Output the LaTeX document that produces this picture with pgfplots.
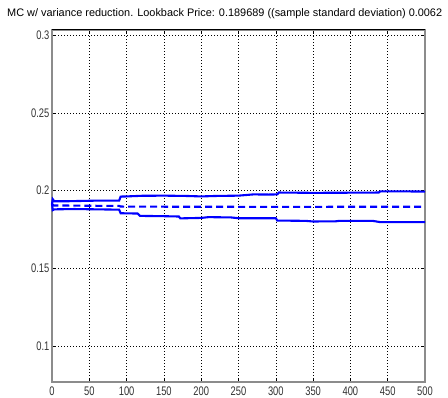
\documentclass[border=0pt]{standalone}
\usepackage{pgfplots}
\pgfplotsset{compat=1.18}
\usepackage{fontspec}
\setmainfont{Liberation Sans}
\begin{document}
\begin{tikzpicture}[x=1bp,y=1bp]
\path[use as bounding box] (-52bp,-16bp) rectangle (396bp,382bp);
\begin{axis}[
  at={(0,0)}, anchor=south west,
  scale only axis, width=373bp, height=352bp,
  xmin=0, xmax=500, ymin=0.0771, ymax=0.3032,
  xtick={0,50,...,500},
  ytick={0.1,0.15,0.2,0.25,0.3},
  yticklabels={0.1,0.15,0.2,0.25,0.3},
  scaled y ticks=false,
  /pgf/number format/assume math mode=true,
  tick label style={font=\fontsize{12.5}{12.5}\selectfont, xscale=0.75, text=black!80},
  xticklabel style={yshift=-1bp},
  tick align=inside,
  major tick length=4bp,
  tick style={black, line width=0.5bp},
  xtick pos=both, ytick pos=both,
  grid=major,
  major grid style={black, line width=0.6bp, dash pattern=on 0.7bp off 2.3bp},
  axis line style={draw=black!45, line width=1.5bp},
  clip=false,
]
\addplot[blue, line width=2.1bp] coordinates {
(0,0.1915) (1,0.1945) (3,0.1932) (20,0.1932) (40,0.1934) (60,0.1936) (90,0.1936)
(92,0.1962) (100,0.1963) (120,0.1967) (150,0.1968) (180,0.1966) (200,0.1963)
(220,0.1966) (250,0.1968) (270,0.1976) (290,0.1975) (302,0.1976) (304,0.1988)
(350,0.1986) (400,0.1987) (438,0.1988) (440,0.1995) (480,0.1995) (500,0.1994)
};
\addplot[blue, line width=2.1bp, dash pattern=on 7bp off 4bp] coordinates {
(0,0.1915) (2,0.1905) (10,0.1905) (50,0.1903) (90,0.1902) (92,0.1898)
(150,0.1897) (300,0.1896) (500,0.1897)
};
\addplot[blue, line width=2.1bp] coordinates {
(0,0.1915) (1,0.1875) (3,0.1880) (30,0.1882) (60,0.1880) (90,0.1878)
(92,0.1855) (115,0.1853) (118,0.1838) (150,0.1836) (170,0.1834) (172,0.1822)
(200,0.1825) (210,0.1830) (240,0.1828) (250,0.1823) (300,0.1823) (302,0.1808)
(340,0.1806) (350,0.1802) (380,0.1803) (385,0.1806) (430,0.1806) (440,0.1798)
(500,0.1798)
};
\draw[black, line width=1bp] (rel axis cs:0,1) -- (rel axis cs:1,1);
\end{axis}
\node[anchor=base west, inner sep=0pt, font=\fontsize{10.95}{12}\selectfont] at (-45bp,365.3bp)
  {MC w/ variance reduction. Lookback Price: 0.189689 ((sample standard deviation) 0.0062};
\end{tikzpicture}
\end{document}
